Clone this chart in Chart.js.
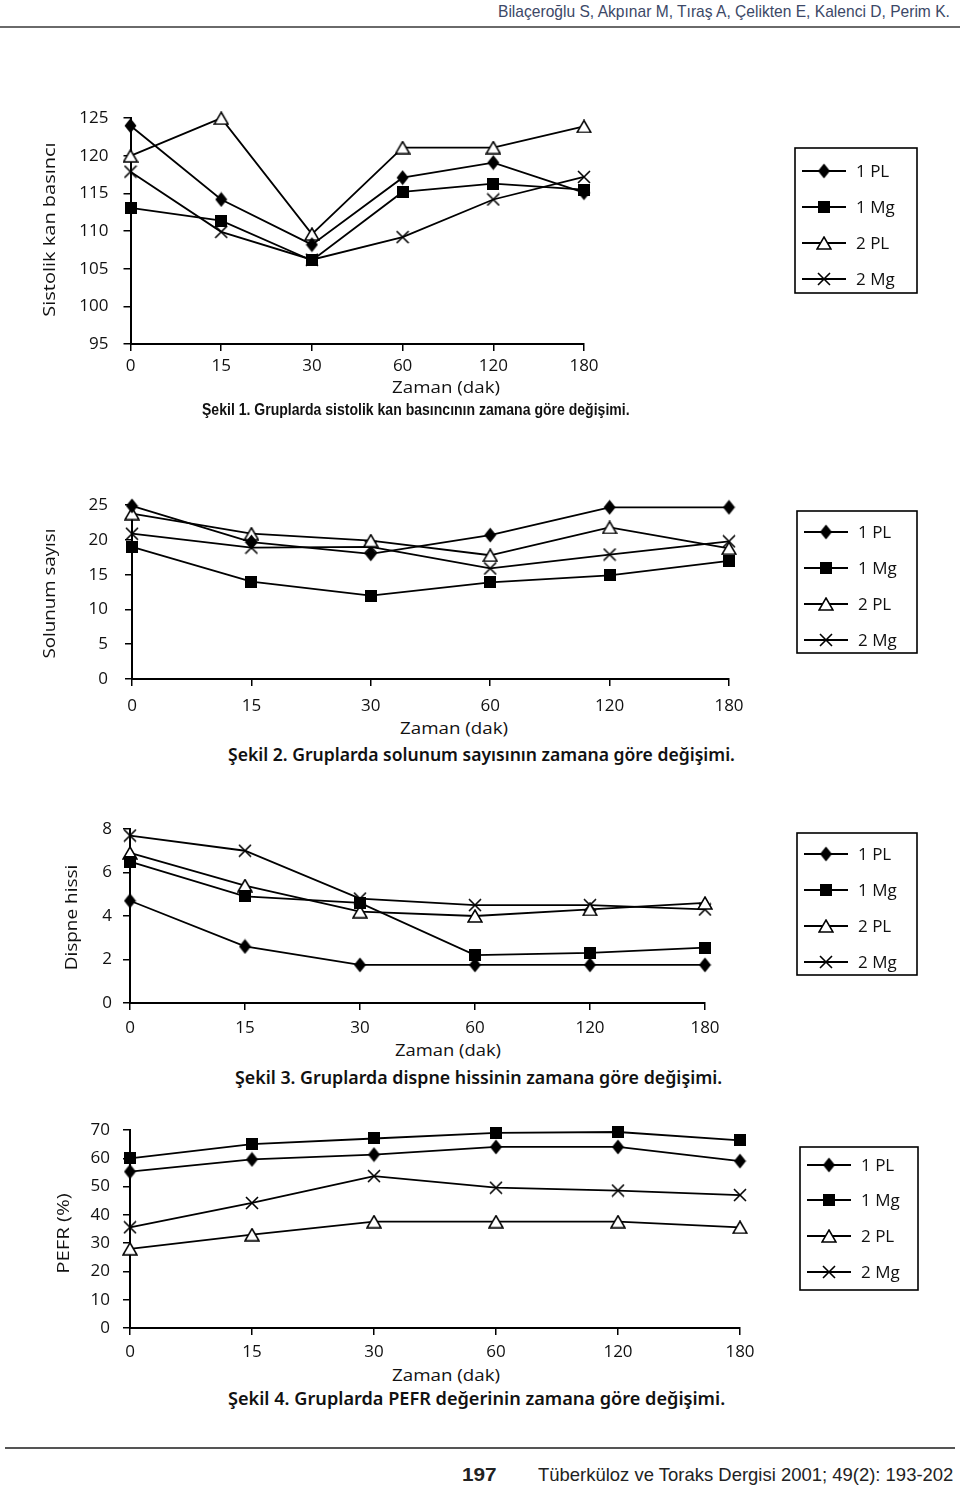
<!DOCTYPE html>
<html><head><meta charset="utf-8">
<script src="https://cdn.jsdelivr.net/npm/chart.js"></script>
<style>
html,body{margin:0;padding:0;background:#fff;}
body{width:960px;height:1488px;position:relative;overflow:hidden;font-family:"Open Sans",sans-serif;color:#111;}
.t{position:absolute;white-space:nowrap;line-height:1;z-index:2;}
canvas{position:absolute;left:0;z-index:1;}
.rule{position:absolute;background:#555;}
</style></head><body>
<canvas id="c1"></canvas>
<canvas id="c2"></canvas>
<canvas id="c3"></canvas>
<canvas id="c4"></canvas>
<div class="rule" style="left:0;top:26px;width:960px;height:2px;background:#6a6a6a"></div>
<div class="rule" style="left:5px;top:1447px;width:950px;height:2px;background:#555"></div>
<script>
// ---------- DATA ----------
const zaman = ['0', '15', '30', '60', '120', '180'];
const gruplar = ['1 PL', '1 Mg', '2 PL', '2 Mg'];

// Şekil 1 – Sistolik kan basıncı
const sistolikEksen = [95, 125, 5];
const sistolik1PL = [124, 114.2, 108.2, 117.1, 119.1, 115.1];
const sistolik1Mg = [113.1, 111.4, 106.1, 115.2, 116.3, 115.5];
const sistolik2PL = [120, 125, 109.6, 121.1, 121.1, 123.9];
const sistolik2Mg = [117.9, 109.9, 106.2, 109.2, 114.2, 117.2];

// Şekil 2 – Solunum sayısı
const solunumEksen = [0, 25, 5];
const solunum1PL = [24.9, 19.7, 18, 20.7, 24.7, 24.7];
const solunum1Mg = [19, 14, 12, 13.9, 14.9, 17];
const solunum2PL = [23.8, 20.9, 19.9, 17.8, 21.8, 18.8];
const solunum2Mg = [20.9, 18.9, 19, 15.9, 17.9, 19.8];

// Şekil 3 – Dispne hissi
const dispneEksen = [0, 8, 2];
const dispne1PL = [4.7, 2.6, 1.75, 1.75, 1.75, 1.75];
const dispne1Mg = [6.5, 4.9, 4.6, 2.2, 2.3, 2.55];
const dispne2PL = [6.9, 5.4, 4.2, 4.0, 4.3, 4.6];
const dispne2Mg = [7.7, 7.0, 4.8, 4.5, 4.5, 4.3];

// Şekil 4 – PEFR (%)
const pefrEksen = [0, 70, 10];
const pefr1PL = [55.3, 59.6, 61.3, 64, 64, 59];
const pefr1Mg = [60, 65, 67, 69, 69.3, 66.3];
const pefr2PL = [28, 33, 37.6, 37.6, 37.6, 35.6];
const pefr2Mg = [35.6, 44.2, 53.7, 49.6, 48.6, 47];

// ---------- MARKERS ----------
function mk(w, h, draw) { const c = document.createElement('canvas'); c.width = w; c.height = h; draw(c.getContext('2d'), w, h); return c; }
const mDiamond = mk(13, 16, (g, w, h) => { g.fillStyle = '#000'; g.beginPath(); g.moveTo(w/2, 0.5); g.lineTo(w-0.5, h/2); g.lineTo(w/2, h-0.5); g.lineTo(0.5, h/2); g.closePath(); g.fill(); });
const mSquare = mk(12, 12, (g, w, h) => { g.fillStyle = '#000'; g.fillRect(0, 0, w, h); });
const mTriangle = mk(16, 14, (g, w, h) => { g.fillStyle = '#fff'; g.strokeStyle = '#000'; g.lineWidth = 1.5; g.beginPath(); g.moveTo(w/2, 1); g.lineTo(w-1, h-1); g.lineTo(1, h-1); g.closePath(); g.fill(); g.stroke(); });
const mCross = mk(14, 14, (g, w, h) => { g.strokeStyle = '#000'; g.lineWidth = 1.6; g.beginPath(); g.moveTo(1, 1); g.lineTo(w-1, h-1); g.moveTo(w-1, 1); g.lineTo(1, h-1); g.stroke(); });
const markers = [mDiamond, mSquare, mTriangle, mCross];

// ---------- LEGEND PLUGIN ----------
const boxLegend = {
  id: 'boxLegend',
  afterDraw(chart, args, o) {
    if (!o || !o.box) return;
    const ctx = chart.ctx, off = o.canvasTop, b = o.box;
    ctx.save();
    ctx.strokeStyle = '#000'; ctx.lineWidth = 1.6;
    ctx.strokeRect(b.x1, b.y1 - off, b.x2 - b.x1, b.y2 - b.y1);
    ctx.font = '17px "Open Sans", sans-serif';
    ctx.fillStyle = '#111'; ctx.textBaseline = 'middle'; ctx.textAlign = 'left';
    chart.data.datasets.forEach((ds, i) => {
      const y = b.rows[i] - off;
      ctx.lineWidth = 1.8; ctx.beginPath();
      ctx.moveTo(b.x1 + 7, y); ctx.lineTo(b.x1 + 51, y); ctx.stroke();
      const m = ds.pointStyle;
      ctx.drawImage(m, b.x1 + 29 - m.width/2, y - m.height/2);
      ctx.fillText(ds.label, b.x1 + 61, y + 1);
    });
    ctx.restore();
  }
};

function build(id, area, eksen, series, pad, box) {
  const canvasTop = area.t - 25;
  const H = area.b + 34 - canvasTop;
  const cv = document.getElementById(id);
  cv.width = 960; cv.height = H; cv.style.top = canvasTop + 'px';
  cv.style.width = '960px'; cv.style.height = H + 'px';
  const tickFont = { family: '"Open Sans", sans-serif', size: 17 };
  new Chart(cv, {
    type: 'line',
    data: {
      labels: zaman,
      datasets: series.map((d, i) => ({
        label: gruplar[i], data: d, borderColor: '#000', borderWidth: 1.8,
        pointStyle: markers[i], pointRadius: 7, pointHoverRadius: 7,
        tension: 0, fill: false, clip: false
      }))
    },
    options: {
      responsive: false, animation: false, devicePixelRatio: 1, events: [],
      layout: { padding: { left: area.l - 60, right: 960 - area.r, top: 25, bottom: 0 } },
      plugins: { legend: { display: false }, tooltip: { enabled: false }, title: { display: false },
        boxLegend: { canvasTop: canvasTop, box: box } },
      scales: {
        x: {
          offset: false,
          grid: { drawOnChartArea: false, drawTicks: true, tickLength: 7, color: '#000', lineWidth: 1.5, offset: false },
          border: { color: '#000', width: 2 },
          ticks: { color: '#111', font: tickFont, padding: pad.x, autoSkip: false, maxRotation: 0 },
          afterFit: s => { s.height = 34; }
        },
        y: {
          min: eksen[0], max: eksen[1],
          grid: { drawOnChartArea: false, drawTicks: true, tickLength: 7, color: '#000', lineWidth: 1.5 },
          border: { color: '#000', width: 2 },
          ticks: { color: '#111', font: tickFont, padding: pad.y, stepSize: eksen[2] },
          afterFit: s => { s.width = 60; }
        }
      }
    },
    plugins: [boxLegend]
  });
}

build('c1', { l: 130.5, r: 584, t: 118, b: 344 }, sistolikEksen,
  [sistolik1PL, sistolik1Mg, sistolik2PL, sistolik2Mg], { x: 5, y: 15 },
  { x1: 795, y1: 148, x2: 917, y2: 293, rows: [171, 207, 243, 279] });
build('c2', { l: 132, r: 729, t: 503, b: 679 }, solunumEksen,
  [solunum1PL, solunum1Mg, solunum2PL, solunum2Mg], { x: 10, y: 17 },
  { x1: 797, y1: 511, x2: 917, y2: 653, rows: [532, 568, 604, 640] });
build('c3', { l: 130, r: 705, t: 829, b: 1003 }, dispneEksen,
  [dispne1PL, dispne1Mg, dispne2PL, dispne2Mg], { x: 8, y: 11 },
  { x1: 797, y1: 833, x2: 917, y2: 975, rows: [854, 890, 926, 962] });
build('c4', { l: 130, r: 740, t: 1130, b: 1328 }, pefrEksen,
  [pefr1PL, pefr1Mg, pefr2PL, pefr2Mg], { x: 7, y: 13 },
  { x1: 800, y1: 1147, x2: 918, y2: 1290, rows: [1165, 1200, 1236, 1272] });

// ---------- TEXT ----------
function txt(s, o) {
  const d = document.createElement('div');
  d.className = 't'; d.textContent = s; d.style.font = o.font;
  if (o.color) d.style.color = o.color;
  document.body.appendChild(d);
  const w = d.offsetWidth, h = d.offsetHeight;
  if (o.rot) {
    const k = o.len ? o.len / w : 1;
    d.style.left = (o.cx - w/2) + 'px'; d.style.top = (o.cy - h/2) + 'px';
    d.style.transform = 'rotate(-90deg) scaleX(' + k + ')';
  } else {
    const k = o.x2 ? (o.x2 - o.x1) / w : 1;
    d.style.left = o.x1 + 'px'; d.style.top = (o.cy - h/2) + 'px';
    d.style.transformOrigin = 'left center'; d.style.transform = 'scaleX(' + k + ')';
  }
}
const F = '17px "Open Sans", sans-serif';
const CAP = '600 17px "Noto Sans", sans-serif';
const CAP1 = '600 16.5px "Liberation Sans Narrow", "Liberation Sans", sans-serif';
const NAR = '17px "Liberation Sans Narrow", "Liberation Sans", sans-serif';

txt('Bilaçeroğlu S, Akpınar M, Tıraş A, Çelikten E, Kalenci D, Perim K.', { font: NAR, x1: 498, x2: 950, cy: 12, color: '#3c4867' });

txt('Sistolik kan basıncı', { font: F, rot: true, cx: 48, cy: 229, len: 174 });
txt('Zaman (dak)', { font: F, x1: 392, x2: 500, cy: 386 });
txt('Şekil 1. Gruplarda sistolik kan basıncının zamana göre değişimi.', { font: CAP1, x1: 202, x2: 630, cy: 409 });

txt('Solunum sayısı', { font: F, rot: true, cx: 48, cy: 593, len: 130 });
txt('Zaman (dak)', { font: F, x1: 400, x2: 508, cy: 727 });
txt('Şekil 2. Gruplarda solunum sayısının zamana göre değişimi.', { font: CAP, x1: 228, x2: 735, cy: 754 });

txt('Dispne hissi', { font: F, rot: true, cx: 70, cy: 917, len: 106 });
txt('Zaman (dak)', { font: F, x1: 395, x2: 501, cy: 1049 });
txt('Şekil 3. Gruplarda dispne hissinin zamana göre değişimi.', { font: CAP, x1: 235, x2: 722, cy: 1077 });

txt('PEFR (%)', { font: F, rot: true, cx: 62, cy: 1233, len: 80 });
txt('Zaman (dak)', { font: F, x1: 392, x2: 500, cy: 1374 });
txt('Şekil 4. Gruplarda PEFR değerinin zamana göre değişimi.', { font: CAP, x1: 228, x2: 725, cy: 1398 });

txt('197', { font: 'bold 19px "Liberation Sans Narrow", "Liberation Sans", sans-serif', x1: 462, x2: 497, cy: 1475, color: '#222' });
txt('Tüberküloz ve Toraks Dergisi 2001; 49(2): 193-202', { font: '19px "Liberation Sans Narrow", "Liberation Sans", sans-serif', x1: 538, x2: 953, cy: 1475, color: '#222' });
</script>
</body></html>
